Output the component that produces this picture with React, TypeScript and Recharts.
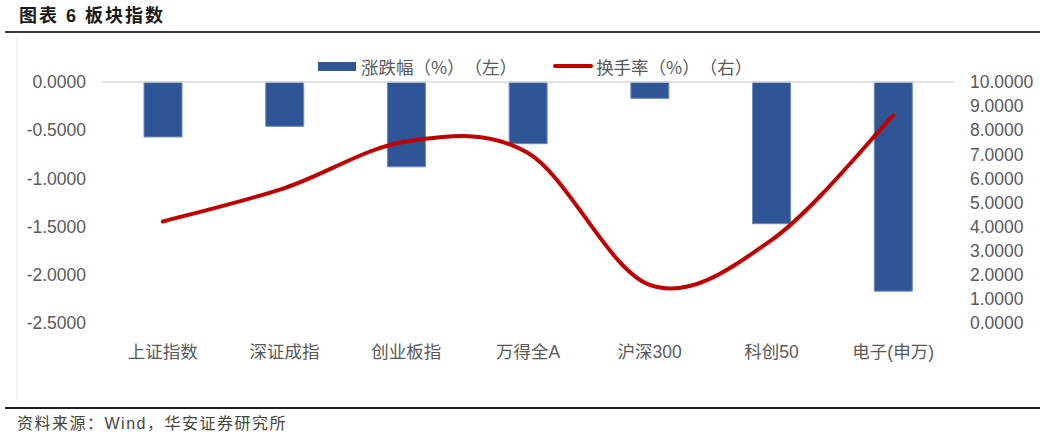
import { ComposedChart, Bar, Line, XAxis, YAxis, ReferenceLine, Legend } from 'recharts';

const categories = ['上证指数', '深证成指', '创业板指', '万得全A', '沪深300', '科创50', '电子(申万)'];
// 涨跌幅（%）, left axis
const changePct = [-0.57, -0.46, -0.88, -0.64, -0.17, -1.47, -2.17];
// 换手率（%）, right axis
const turnoverPct = [4.21, 5.6, 7.53, 7.05, 1.58, 3.44, 8.61];
const leftTicks = [0, -0.5, -1, -1.5, -2, -2.5];
const rightTicks = [0, 1, 2, 3, 4, 5, 6, 7, 8, 9, 10];

const data = categories.map((name, i) => ({
  name,
  change: changePct[i],
  turnover: turnoverPct[i],
}));

const BAR_COLOR = '#2F5597';
const LINE_COLOR = '#C00000';
const TEXT_COLOR = '#595959';
const FONT = "'Liberation Sans', 'Noto Sans CJK SC', sans-serif";
const CJK_FONT = "'Noto Sans CJK SC', 'Liberation Sans', sans-serif";

// Excel-style smoothed line (cardinal spline through every point)
const excelSmooth = (context: any) => {
  let pts: number[][] = [];
  return {
    areaStart() {},
    areaEnd() {},
    lineStart() {
      pts = [];
    },
    point(x: number, y: number) {
      pts.push([+x, +y]);
    },
    lineEnd() {
      const n = pts.length;
      if (!n) return;
      context.moveTo(pts[0][0], pts[0][1]);
      for (let i = 0; i < n - 1; i++) {
        const p0 = pts[Math.max(i - 1, 0)];
        const p1 = pts[i];
        const p2 = pts[i + 1];
        const p3 = pts[Math.min(i + 2, n - 1)];
        context.bezierCurveTo(
          p1[0] + (p2[0] - p0[0]) / 6,
          p1[1] + (p2[1] - p0[1]) / 6,
          p2[0] - (p3[0] - p1[0]) / 6,
          p2[1] - (p3[1] - p1[1]) / 6,
          p2[0],
          p2[1]
        );
      }
    },
  };
};

const legendText = {
  fontFamily: CJK_FONT,
  fontSize: 17.5,
  color: TEXT_COLOR,
  textSpacingTrim: 'space-all',
  fontKerning: 'none',
} as any;

const LegendRow = () => (
  <div
    style={{
      display: 'flex',
      alignItems: 'center',
      paddingLeft: 318,
      height: 22,
      whiteSpace: 'nowrap',
    }}
  >
    <span style={{ width: 38, height: 9, background: BAR_COLOR, marginRight: 5 }} />
    <span style={legendText}>涨跌幅（%）（左）</span>
    <span style={{ width: 40, height: 4, borderRadius: 2, background: LINE_COLOR, marginLeft: 36, marginRight: 3 }} />
    <span style={legendText}>换手率（%）（右）</span>
  </div>
);

const tickStyle = { fontFamily: FONT, fontSize: 17.5, fill: TEXT_COLOR };

export default function App() {
  return (
    <div style={{ position: 'absolute', left: 0, top: 0, width: 1046, height: 439, background: '#fff' }}>
      <div
        style={{
          position: 'absolute',
          left: 19,
          top: 7,
          fontFamily: FONT,
          fontWeight: 700,
          fontSize: 18,
          lineHeight: '18px',
          letterSpacing: 2,
          color: '#1a1a1a',
          whiteSpace: 'pre',
        }}
      >
        图表 6 板块指数
      </div>
      <div style={{ position: 'absolute', left: 5, top: 31, width: 1035, height: 2, background: '#3a3a3a' }} />
      <div style={{ position: 'absolute', left: 16, top: 37, width: 1, height: 364, background: '#f2f2f2' }} />

      <ComposedChart
        width={1046}
        height={439}
        data={data}
        margin={{ top: 82, right: 0, bottom: 86, left: 0 }}
      >
        <XAxis
          dataKey="name"
          axisLine={false}
          tickLine={false}
          tickSize={0}
          tickMargin={23}
          height={30}
          interval={0}
          tick={tickStyle}
        />
        <YAxis
          yAxisId="left"
          orientation="left"
          width={102}
          domain={[-2.5, 0]}
          ticks={leftTicks}
          interval={0}
          axisLine={false}
          tickLine={false}
          tickSize={0}
          tickMargin={16}
          tick={tickStyle}
          tickFormatter={(v: number) => v.toFixed(4)}
        />
        <YAxis
          yAxisId="right"
          orientation="right"
          width={92}
          domain={[0, 10]}
          ticks={rightTicks}
          interval={0}
          axisLine={false}
          tickLine={false}
          tickSize={0}
          tickMargin={16}
          tick={tickStyle}
          tickFormatter={(v: number) => v.toFixed(4)}
        />
        <ReferenceLine yAxisId="left" y={0} stroke="#D9D9D9" strokeWidth={1.5} />
        <Legend
          verticalAlign="middle"
          wrapperStyle={{ top: 55, left: 0, width: 1046 }}
          content={() => <LegendRow />}
        />
        <Bar
          yAxisId="left"
          dataKey="change"
          fill={BAR_COLOR}
          stroke="#6E8BBF"
          strokeWidth={1}
          barSize={38}
          isAnimationActive={false}
        />
        <Line
          yAxisId="right"
          dataKey="turnover"
          type={excelSmooth as any}
          stroke={LINE_COLOR}
          strokeWidth={4}
          strokeLinecap="round"
          dot={false}
          activeDot={false}
          isAnimationActive={false}
        />
      </ComposedChart>

      <div style={{ position: 'absolute', left: 5, top: 407, width: 1035, height: 2, background: '#1f1f1f' }} />
      <div
        style={{
          position: 'absolute',
          left: 17,
          top: 416,
          fontFamily: FONT,
          fontSize: 16,
          lineHeight: '16px',
          letterSpacing: 1.5,
          color: '#45453a',
          whiteSpace: 'pre',
        }}
      >
        资料来源：Wind，华安证券研究所
      </div>
    </div>
  );
}
